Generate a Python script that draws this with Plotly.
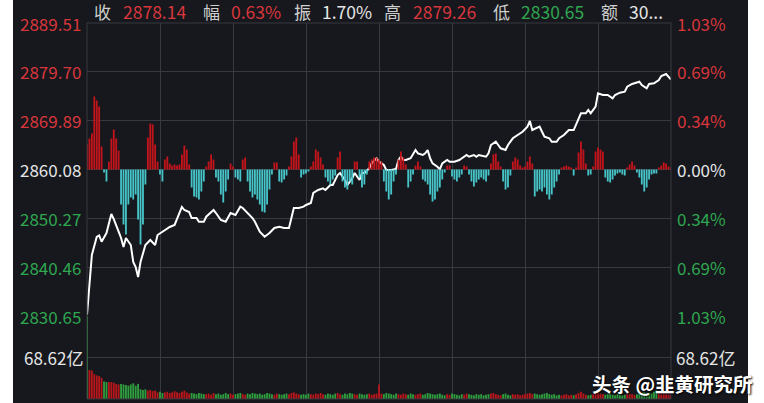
import plotly.graph_objects as go

# ---------------- data ----------------
prev_close = 2860.08
price_ticks = [2889.51, 2879.70, 2869.89, 2860.08, 2850.27, 2840.46, 2830.65]
pct_labels = ['1.03%', '0.69%', '0.34%', '0.00%', '0.34%', '0.69%', '1.03%']
vol_mid = 68.62
vol_label = '68.62亿'

header_labels = ['收', '幅', '振', '高', '低', '额']
header_values = ['2878.14', '0.63%', '1.70%', '2879.26', '2830.65', '30...']
header_value_kind = ['up', 'up', 'flat', 'up', 'down', 'flat']

watermark = '头条 @韭黄研究所'

line_minute = [0, 1, 2, 4, 5, 6, 8, 10, 11, 13,
               14, 15, 16, 18, 19, 20, 21, 22, 24, 26,
               28, 29, 31, 34, 36, 37, 39, 40, 42, 43,
               45, 46, 48, 49, 52, 53, 55, 57, 59, 61,
               63, 64, 66, 68, 69, 71, 73, 75, 77, 79,
               81, 83, 84, 85, 87, 89, 90, 92, 93, 95,
               97, 98, 100, 101, 103, 104, 105, 106, 107, 109,
               110, 112, 113, 114, 116, 117, 119, 120, 122, 123,
               125, 127, 128, 129, 130, 131, 133, 135, 136, 138,
               139, 140, 141, 142, 144, 145, 146, 148, 149, 151,
               153, 155, 156, 157, 159, 160, 161, 164, 165, 166,
               168, 169, 170, 172, 173, 175, 177, 179, 181, 182,
               183, 185, 186, 187, 188, 190, 191, 193, 194, 196,
               198, 200, 202, 203, 205, 206, 207, 209, 210, 212,
               214, 216, 217, 219, 221, 222, 224, 225, 227, 228,
               230, 231, 233, 235, 236, 238, 239, 240]
line_price = [2830.90, 2837.88, 2842.90, 2846.52, 2846.82, 2845.57, 2847.32, 2851.14, 2850.13, 2847.58,
              2846.32, 2844.51, 2846.32, 2844.91, 2841.50, 2840.49, 2838.48, 2841.50, 2844.91, 2845.92,
              2844.91, 2846.92, 2847.58, 2848.53, 2848.93, 2850.13, 2852.55, 2851.94, 2851.54, 2850.33,
              2850.33, 2849.59, 2849.59, 2850.60, 2851.94, 2851.34, 2849.93, 2849.59, 2851.34, 2850.94,
              2852.61, 2852.35, 2851.34, 2850.33, 2849.59, 2847.58, 2846.58, 2847.32, 2848.33, 2848.59,
              2848.33, 2848.33, 2850.33, 2852.35, 2852.35, 2852.61, 2852.95, 2853.35, 2855.36, 2855.96,
              2856.30, 2855.96, 2856.97, 2856.97, 2858.97, 2859.38, 2858.63, 2857.97, 2856.97, 2858.31,
              2859.38, 2857.97, 2859.38, 2859.38, 2860.32, 2861.32, 2862.33, 2861.65, 2860.98, 2859.98,
              2859.98, 2860.18, 2861.99, 2862.65, 2861.99, 2861.99, 2862.33, 2864.00, 2863.33, 2862.99,
              2863.33, 2864.00, 2862.33, 2861.32, 2860.64, 2860.12, 2861.32, 2861.99, 2861.65, 2861.65,
              2861.99, 2862.65, 2862.99, 2862.65, 2862.99, 2862.65, 2862.99, 2862.65, 2863.33, 2865.00,
              2865.66, 2865.00, 2864.34, 2864.00, 2865.00, 2866.35, 2867.01, 2867.67, 2868.68, 2869.82,
              2868.01, 2868.36, 2868.68, 2867.67, 2866.67, 2866.35, 2865.66, 2865.66, 2866.35, 2867.01,
              2868.01, 2868.01, 2870.37, 2871.37, 2871.37, 2872.03, 2871.37, 2872.70, 2875.39, 2875.05,
              2875.05, 2874.38, 2875.05, 2875.51, 2875.71, 2876.71, 2877.26, 2877.40, 2877.72, 2877.05,
              2876.39, 2877.26, 2877.40, 2878.06, 2878.86, 2879.26, 2878.72, 2878.14]

# buy/sell strength bars per minute (0..240)
strength = [25, 31, 36, 73, 69, 63, 23, -3, -12, 8,
            31, 40, 31, 19, -35, -55, -65, -35, -28, -30,
            -25, -50, -75, -55, -15, 32, 46, 45, 25, 8,
            -5, -12, 10, 13, 6, 4, 5, 4, 5, 15,
            24, 20, 5, -18, -27, -28, -30, -22, -12, 3,
            8, 15, 10, -8, -12, -25, -33, -22, -10, 6,
            3, -8, -10, -12, 10, 12, -12, -22, -28, -25,
            -30, -35, -42, -43, -35, -20, -5, 7, 7, -12,
            -13, -10, -6, 3, 13, 28, 32, 15, -8, -5,
            -4, -2, 3, 8, 20, 18, 12, 5, -8, -12,
            -15, -10, -6, 12, 18, -12, -18, -20, -12, -15,
            8, 8, -8, -18, -15, -5, 8, 10, 12, 12,
            10, 8, -12, -22, -30, -25, -12, -5, 10, 18,
            12, 5, -18, -12, -5, 4, 8, 3, -10, -12,
            -15, -25, -32, -30, -22, -18, -10, -3, 4, 4,
            -7, -10, -12, -8, -5, 4, 3, -5, -12, -17,
            -13, -10, -8, -10, -12, -6, 6, 15, 16, 8,
            3, -12, -20, -18, -6, 8, 12, 10, 4, 2,
            3, 8, 13, 6, -27, -22, -20, -22, -18, -25,
            -30, -25, -18, -12, -5, 2, 3, 4, 3, 2,
            -6, 2, 17, 28, 20, 6, -6, -5, 3, 18,
            22, 20, 18, -8, -12, -13, -10, -6, -4, -3,
            -5, -6, 2, 5, 8, 4, -3, -8, -15, -22,
            -18, -10, -5, -4, -4, 2, 4, 7, 6, 3,
            2]

# volume per minute (亿)
volume = [137, 48, 47, 41, 39, 38, 35, 29, 28, 28,
          28, 27, 25, 24, 25, 24, 23, 22, 24, 26,
          22, 25, 16, 15, 16, 14, 15, 13, 14, 11,
          12, 10, 11, 12, 10, 11, 13, 11, 10, 12,
          14, 11, 9, 10, 9, 8, 10, 9, 8, 8,
          9, 7, 10, 8, 9, 7, 8, 10, 8, 9,
          7, 8, 9, 10, 8, 7, 9, 8, 10, 9,
          8, 9, 7, 8, 10, 9, 8, 7, 9, 8,
          7, 8, 9, 8, 10, 11, 9, 8, 7, 8,
          7, 9, 8, 7, 9, 8, 10, 8, 7, 9,
          8, 7, 9, 10, 8, 7, 9, 8, 10, 9,
          8, 7, 9, 8, 7, 8, 9, 7, 8, 9,
          24, 9, 8, 10, 9, 8, 7, 9, 8, 7,
          9, 8, 7, 9, 8, 7, 8, 9, 7, 8,
          10, 9, 8, 7, 8, 9, 7, 6, 8, 7,
          9, 8, 7, 6, 8, 7, 9, 8, 7, 6,
          8, 7, 8, 6, 7, 8, 9, 10, 8, 7,
          6, 8, 9, 7, 6, 8, 7, 8, 6, 7,
          8, 9, 10, 8, 9, 8, 7, 8, 9, 10,
          8, 7, 8, 6, 7, 6, 7, 8, 6, 7,
          6, 8, 10, 12, 9, 7, 6, 7, 8, 10,
          11, 9, 8, 7, 8, 9, 7, 6, 8, 7,
          6, 7, 8, 9, 8, 7, 8, 9, 10, 11,
          9, 10, 9, 12, 14, 13, 11, 10, 9, 8,
          12]

# ---------------- style ----------------
BG = '#16181d'
GRID = '#363940'
RED_T = '#d9363c'
GREEN_T = '#2fa650'
WHITE_T = '#e6e6e6'
LABEL_T = '#cfcfcf'
RED_BAR = '#c4141b'
CYAN_BAR = '#46c4c8'
VOL_RED = '#b8161b'
VOL_GREEN = '#2f9e3e'
FONT = 'Noto Sans CJK SC'

W, H = 764, 403
L, R, T, B = 87, 93, 23, 4
PW, PH = W - L - R, H - T - B
vol_frac = 83 / PH


def px_x(X):
    return (X - L) / PW


def px_y(Y):
    return (H - B - Y) / PH


minutes = list(range(len(strength)))
n_min = len(strength) - 1
strength_colors = [RED_BAR if s >= 0 else CYAN_BAR for s in strength]
vol_colors = [VOL_RED if s >= 0 else VOL_GREEN for s in strength]
vol_colors[0] = VOL_RED if line_price[0] >= prev_close else VOL_GREEN

fig = go.Figure()
fig.add_trace(go.Bar(x=minutes, y=volume, marker=dict(color=vol_colors, line=dict(width=0)),
                     xaxis='x2', yaxis='y2', hoverinfo='skip'))
fig.add_trace(go.Bar(x=minutes, y=strength, marker=dict(color=strength_colors, line=dict(width=0)),
                     xaxis='x', yaxis='y3', hoverinfo='skip'))
fig.add_trace(go.Scatter(x=line_minute, y=line_price, mode='lines',
                         line=dict(color='#ffffff', width=2), xaxis='x', yaxis='y', hoverinfo='skip'))

p_lo, p_hi = min(price_ticks), max(price_ticks)
half = (PH - 83) / 2.0
grid_x = [i * n_min / 8 for i in range(9)]

fig.update_layout(
    width=W, height=H,
    margin=dict(l=L, r=R, t=T, b=B, pad=0),
    paper_bgcolor='#ffffff', plot_bgcolor=BG,
    showlegend=False, barmode='overlay', bargap=0.25,
    xaxis=dict(domain=[0, 1], range=[0, n_min], anchor='y', tickvals=grid_x, showticklabels=False,
               showgrid=True, gridcolor=GRID, gridwidth=1, zeroline=False, ticks=''),
    xaxis2=dict(domain=[0, 1], range=[0, n_min], anchor='y2', matches='x', tickvals=grid_x,
                showticklabels=False, showgrid=True, gridcolor=GRID, gridwidth=1, zeroline=False, ticks=''),
    yaxis=dict(domain=[vol_frac, 1], range=[p_lo, p_hi], tickvals=price_ticks, showticklabels=False,
               showgrid=True, gridcolor=GRID, gridwidth=1, zeroline=False, ticks=''),
    yaxis3=dict(overlaying='y', range=[-half, half], visible=False),
    yaxis2=dict(domain=[0, vol_frac], range=[0, 2 * vol_mid], tickvals=[0, vol_mid, 2 * vol_mid],
                showticklabels=False, showgrid=True, gridcolor=GRID, gridwidth=1, zeroline=False, ticks=''),
    font=dict(family=FONT),
)

shapes = [
    dict(type='rect', xref='paper', yref='paper', x0=px_x(13), x1=px_x(748), y0=px_y(H + 2), y1=px_y(-2),
         fillcolor=BG, line=dict(width=0), layer='below'),
    dict(type='rect', xref='paper', yref='paper', x0=0, x1=1, y0=0, y1=1,
         line=dict(color=GRID, width=1), fillcolor='rgba(0,0,0,0)', layer='above'),
]
fig.update_layout(shapes=shapes)

ann = []


def tcolor(v):
    if v > prev_close + 1e-9:
        return RED_T
    if v < prev_close - 1e-9:
        return GREEN_T
    return WHITE_T


for v, pct in zip(price_ticks, pct_labels):
    c = tcolor(v)
    ann.append(dict(xref='paper', yref='y', x=px_x(82), y=v, text=f'{v:.2f}', showarrow=False,
                    xanchor='right', yanchor='middle', borderpad=0,
                    font=dict(size=17, color=c, family=FONT)))
    ann.append(dict(xref='paper', yref='y', x=px_x(676), y=v, text=pct, showarrow=False,
                    xanchor='left', yanchor='middle', borderpad=0,
                    font=dict(size=17, color=c, family=FONT)))

ann.append(dict(xref='paper', yref='y2', x=px_x(84), y=vol_mid, text=vol_label, showarrow=False,
                xanchor='right', yanchor='middle', borderpad=0,
                font=dict(size=17, color=WHITE_T, family=FONT)))
ann.append(dict(xref='paper', yref='y2', x=px_x(675), y=vol_mid, text=vol_label, showarrow=False,
                xanchor='left', yanchor='middle', borderpad=0,
                font=dict(size=17, color=WHITE_T, family=FONT)))

label_x = [93, 202, 293, 383, 492, 600]
value_x = [122, 230, 321, 412, 520, 628]
kind_color = {'up': RED_T, 'down': GREEN_T, 'flat': WHITE_T}
for lab, val, kind, lx, vx in zip(header_labels, header_values, header_value_kind, label_x, value_x):
    ann.append(dict(xref='paper', yref='paper', x=px_x(lx), y=px_y(11), text=lab, showarrow=False,
                    xanchor='left', yanchor='middle', borderpad=0,
                    font=dict(size=17, color=LABEL_T, family=FONT)))
    ann.append(dict(xref='paper', yref='paper', x=px_x(vx), y=px_y(11), text=val, showarrow=False,
                    xanchor='left', yanchor='middle', borderpad=0,
                    font=dict(size=17.5, color=kind_color[kind], family=FONT)))

ann.append(dict(xref='paper', yref='paper', x=px_x(591), y=px_y(383), text=watermark, showarrow=False,
                xanchor='left', yanchor='middle', borderpad=0,
                font=dict(size=19.5, color='#ffffff', family=FONT, weight='bold',
                          shadow='1px 1px 2px #000000')))

fig.update_layout(annotations=ann)

fig.write_html('out.html', config={'displayModeBar': False, 'staticPlot': True})

# remove the browser's default page margin so the figure sits at the window's top-left
with open('out.html', 'r', encoding='utf-8') as f:
    html = f.read()
html = html.replace('<head>', '<head><style>html,body{margin:0;padding:0;overflow:hidden;}</style>', 1)
with open('out.html', 'w', encoding='utf-8') as f:
    f.write(html)
